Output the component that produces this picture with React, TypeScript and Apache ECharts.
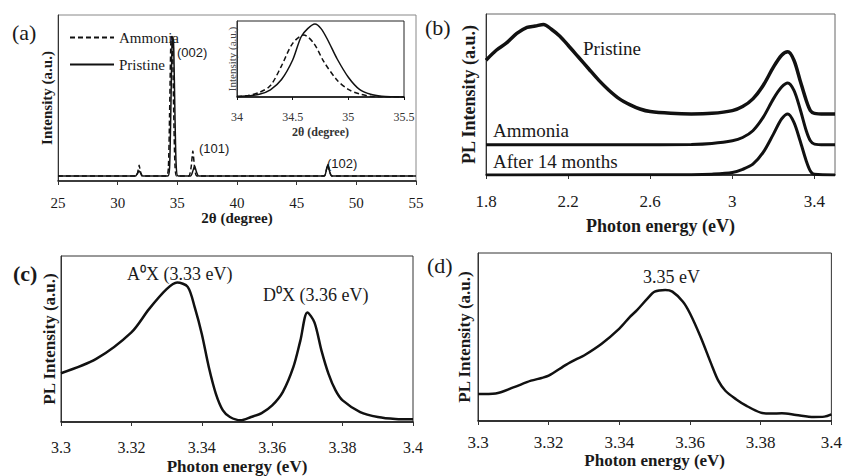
import React, { useEffect, useRef } from 'react';
import * as echarts from 'echarts';

const SERIF = '"Liberation Serif", "Times New Roman", serif';
const SANS = '"Liberation Sans", Arial, sans-serif';
const INK = '#1a1a1a';

// ---------- (a) XRD ----------
const xrdTicks = [25, 30, 35, 40, 45, 50, 55];
const xrdPristineX = [25, 31.5, 31.65, 31.8, 31.95, 32.1, 34.2, 34.35, 34.45, 34.55, 34.62, 34.7, 34.8, 34.9, 35.05, 36.1, 36.3, 36.45, 36.6, 36.8, 47.3, 47.5, 47.62, 47.75, 47.95, 55];
const xrdPristineY = [3, 3, 4.5, 6, 4.5, 3, 3, 8, 40, 82, 87, 80, 40, 10, 3, 3, 6, 9, 5.5, 3, 3, 7, 10, 6, 3, 3];
const xrdAmmoniaX = [25, 31.55, 31.7, 31.8, 31.9, 32.05, 34.1, 34.25, 34.35, 34.45, 34.52, 34.6, 34.7, 34.8, 34.95, 35.95, 36.15, 36.3, 36.45, 36.65, 47.3, 47.5, 47.6, 47.75, 47.95, 55];
const xrdAmmoniaY = [3, 3, 6, 9.5, 6, 3, 3, 8, 40, 82, 87, 80, 40, 10, 3, 3, 8, 18, 8, 3, 3, 7, 10, 6, 3, 3];

// inset of (a)
const insetTicks = [34, 34.5, 35, 35.5];
const insetPristineX = [34.0, 34.1, 34.2, 34.3, 34.4, 34.5, 34.575, 34.635, 34.7, 34.755, 34.815, 34.9, 35.0, 35.1, 35.2, 35.3, 35.4, 35.5];
const insetPristineY = [0.5, 1.5, 3.5, 9.5, 23, 48.7, 79, 90, 96, 90, 75, 50, 26, 10, 3.5, 1, 0.3, 0];
const insetAmmoniaX = [34.0, 34.1, 34.2, 34.3, 34.4, 34.5, 34.6, 34.69, 34.78, 34.9, 35.0, 35.1, 35.2, 35.3, 35.5];
const insetAmmoniaY = [0.5, 2, 6, 15, 41, 70.6, 81.6, 70.6, 46.5, 22, 10, 4, 1, 0.3, 0];

// ---------- (b) PL ----------
const plTicks = [1.8, 2.2, 2.6, 3, 3.4];
const plPristineX = [1.8, 1.85, 1.9, 1.95, 2.0, 2.04, 2.08, 2.12, 2.16, 2.2, 2.25, 2.3, 2.35, 2.4, 2.45, 2.5, 2.55, 2.6, 2.7, 2.8, 2.9, 3.0, 3.05, 3.1, 3.15, 3.2, 3.24, 3.27, 3.3, 3.33, 3.36, 3.38, 3.4, 3.45, 3.5];
const plPristineY = [71.3, 77.5, 82, 87.9, 91.7, 92.5, 93.5, 90.4, 86.2, 80.6, 73.3, 66, 58.75, 52.5, 47.3, 43.75, 41, 39.4, 38.3, 37.9, 38.3, 40, 42.5, 47.3, 55.6, 67, 74.4, 76.5, 71.3, 58.75, 46.25, 40, 38.3, 37.9, 37.9];
const plAmmoniaX = [1.8, 2.5, 2.8, 2.9, 3.0, 3.05, 3.1, 3.15, 3.2, 3.24, 3.27, 3.3, 3.33, 3.36, 3.38, 3.4, 3.45, 3.5];
const plAmmoniaY = [18.75, 18.75, 19, 19.6, 21.25, 23.3, 27.5, 35.8, 47.3, 54.6, 57.1, 52.5, 41, 27.5, 21.25, 19.2, 18.75, 18.75];
const plAgedX = [1.8, 2.8, 2.9, 3.0, 3.05, 3.1, 3.15, 3.2, 3.24, 3.27, 3.3, 3.33, 3.36, 3.38, 3.4, 3.5];
const plAgedY = [0, 0.2, 0.5, 1.5, 3.5, 6.7, 14, 25.4, 34.8, 37.9, 32.7, 21.25, 8.75, 2.5, 0.4, 0];

// ---------- (c) low-temperature PL ----------
const nbeTicks = [3.3, 3.32, 3.34, 3.36, 3.38, 3.4];
const cX = [3.3, 3.31, 3.32, 3.325, 3.33, 3.333, 3.336, 3.338, 3.34, 3.342, 3.344, 3.346, 3.348, 3.351, 3.354, 3.357, 3.36, 3.363, 3.366, 3.368, 3.37, 3.372, 3.374, 3.376, 3.378, 3.38, 3.385, 3.39, 3.395, 3.4];
const cY = [29.4, 38, 54, 68, 80, 84, 81.4, 69, 53, 33, 17, 7, 3, 1, 3, 5.4, 10, 18, 33, 49, 66, 60, 43, 29, 19, 13, 6, 3, 1.8, 1.6];

// ---------- (d) ----------
const dX = [3.3, 3.305, 3.31, 3.315, 3.318, 3.32, 3.325, 3.328, 3.33, 3.335, 3.34, 3.343, 3.345, 3.348, 3.35, 3.353, 3.355, 3.358, 3.36, 3.363, 3.366, 3.368, 3.37, 3.373, 3.376, 3.38, 3.383, 3.386, 3.39, 3.395, 3.398, 3.4];
const dY = [16, 16.4, 20, 24, 25.6, 27, 33.6, 37, 39, 46, 55, 62, 66, 73, 77, 78, 77, 71, 64, 50, 34, 24, 18, 13, 9, 5, 4.4, 4.6, 3.6, 2.4, 2.6, 4];

const pairs = (xs: number[], ys: number[]) => xs.map((x, i) => [x, ys[i]]);

function xAxis(grid: number, min: number, max: number, ticks: number[], fs: number, margin: number, name: string, nameSize: number, nameGap: number, color = INK) {
  return {
    type: 'value', gridIndex: grid, min, max,
    axisLine: { show: true, lineStyle: { color: '#111', width: 1.5 } },
    axisTick: { show: true, length: 4, customValues: ticks, lineStyle: { color: '#333' } },
    axisLabel: { customValues: ticks, fontFamily: SERIF, fontSize: fs, color, margin },
    splitLine: { show: false },
    name, nameLocation: 'middle', nameGap,
    nameTextStyle: { fontFamily: SERIF, fontWeight: 'bold', fontSize: nameSize, color },
  };
}
function yAxis(grid: number, name: string, nameSize: number, nameGap: number, bold = true, color = INK) {
  return {
    type: 'value', gridIndex: grid, min: 0, max: 100,
    axisLine: { show: true, lineStyle: { color: '#333', width: 1 } },
    axisTick: { show: false }, axisLabel: { show: false }, splitLine: { show: false },
    name, nameLocation: 'middle', nameGap,
    nameTextStyle: { fontFamily: SERIF, fontWeight: bold ? 'bold' : 'normal', fontSize: nameSize, color },
  };
}
function line(name: string, xi: number, data: number[][], width: number, dashed = false, smooth = 0.3) {
  return {
    type: 'line', name, xAxisIndex: xi, yAxisIndex: xi, data,
    symbol: 'none', showSymbol: false, smooth,
    lineStyle: { color: '#111', width, type: dashed ? [5, 3] : 'solid' },
    itemStyle: { color: '#111' },
  };
}
function txt(text: string, x: number, y: number, size: number, opts: any = {}) {
  return {
    type: 'text', x, y, z: 100,
    style: { text, font: `${opts.bold ? 'bold ' : ''}${size}px ${opts.font || SERIF}`, fill: opts.fill || INK, textAlign: 'left', textVerticalAlign: 'middle' },
  };
}

export default function App() {
  const ref = useRef<HTMLDivElement>(null);
  useEffect(() => {
    const chart = echarts.init(ref.current!, null, { renderer: 'svg' });
    chart.setOption({
      animation: false,
      backgroundColor: '#fff',
      grid: [
        { left: 58, top: 15, width: 358, height: 166, show: true, borderColor: '#888', borderWidth: 1 },
        { left: 237, top: 21, width: 167, height: 76, show: true, borderColor: '#222', borderWidth: 1, backgroundColor: '#fff' },
        { left: 486, top: 14, width: 349, height: 161, show: true, borderColor: '#666', borderWidth: 1 },
        { left: 61, top: 256, width: 352, height: 166, show: true, borderColor: '#333', borderWidth: 1 },
        { left: 478, top: 253, width: 357, height: 168, show: true, borderColor: '#333', borderWidth: 1 },
      ],
      xAxis: [
        xAxis(0, 25, 55, xrdTicks, 15, 14, '2θ (degree)', 15, 29),
        { ...xAxis(1, 34, 35.5, insetTicks, 12, 14, '2θ (degree)', 12, 29, '#333'), axisTick: { show: true, length: 3, customValues: insetTicks } },
        xAxis(2, 1.8, 3.5, plTicks, 17, 18, 'Photon energy (eV)', 18, 42),
        xAxis(3, 3.3, 3.4, nbeTicks, 16, 17, 'Photon energy (eV)', 17, 36),
        xAxis(4, 3.3, 3.4, nbeTicks, 17, 13, 'Photon energy (eV)', 17, 24),
      ],
      yAxis: [
        yAxis(0, 'Intensity (a.u.)', 15, 4),
        yAxis(1, 'Intensity (a.u.)', 11, 0, false, '#444'),
        yAxis(2, 'PL Intensity (a.u.)', 18, 8),
        yAxis(3, 'PL Intensity (a.u.)', 17, 3),
        yAxis(4, 'PL Intensity (a.u.)', 17, 5),
      ],
      legend: {
        data: ['Ammonia', 'Pristine'], orient: 'vertical', left: 64, top: 25,
        itemWidth: 44, itemHeight: 14, itemGap: 12,
        itemStyle: { opacity: 0 },
        textStyle: { fontFamily: SERIF, fontSize: 15, color: INK },
      },
      series: [
        line('Ammonia', 0, pairs(xrdAmmoniaX, xrdAmmoniaY), 1.5, true, 0.2),
        line('Pristine', 0, pairs(xrdPristineX, xrdPristineY), 1.5, false, 0.2),
        line('Ammonia inset', 1, pairs(insetAmmoniaX, insetAmmoniaY), 1.5, true),
        line('Pristine inset', 1, pairs(insetPristineX, insetPristineY), 1.5),
        line('PL pristine', 2, pairs(plPristineX, plPristineY), 3.5),
        line('PL ammonia', 2, pairs(plAmmoniaX, plAmmoniaY), 3),
        line('PL after 14 months', 2, pairs(plAgedX, plAgedY), 3),
        line('NBE c', 3, pairs(cX, cY), 2.5),
        line('NBE d', 4, pairs(dX, dY), 2.5),
      ],
      graphic: [
        txt('(a)', 12, 32, 22),
        txt('(002)', 177, 52, 13, { font: SANS }),
        txt('(101)', 199, 148, 13, { font: SANS }),
        txt('(102)', 327, 163, 13, { font: SANS }),
        txt('(b)', 425, 27, 22),
        txt('Pristine', 583, 48, 19),
        txt('Ammonia', 493, 130, 19),
        txt('After 14 months', 493, 161, 19),
        txt('(c)', 13, 273, 22, { bold: true }),
        txt('A⁰X (3.33 eV)', 127, 274, 18),
        txt('D⁰X (3.36 eV)', 263, 295, 18),
        txt('(d)', 427, 265, 22),
        txt('3.35 eV', 643, 277, 18),
      ],
    });
    return () => chart.dispose();
  }, []);
  return <div ref={ref} style={{ position: 'fixed', left: 0, top: 0, width: 845, height: 476, background: '#fff' }} />;
}
